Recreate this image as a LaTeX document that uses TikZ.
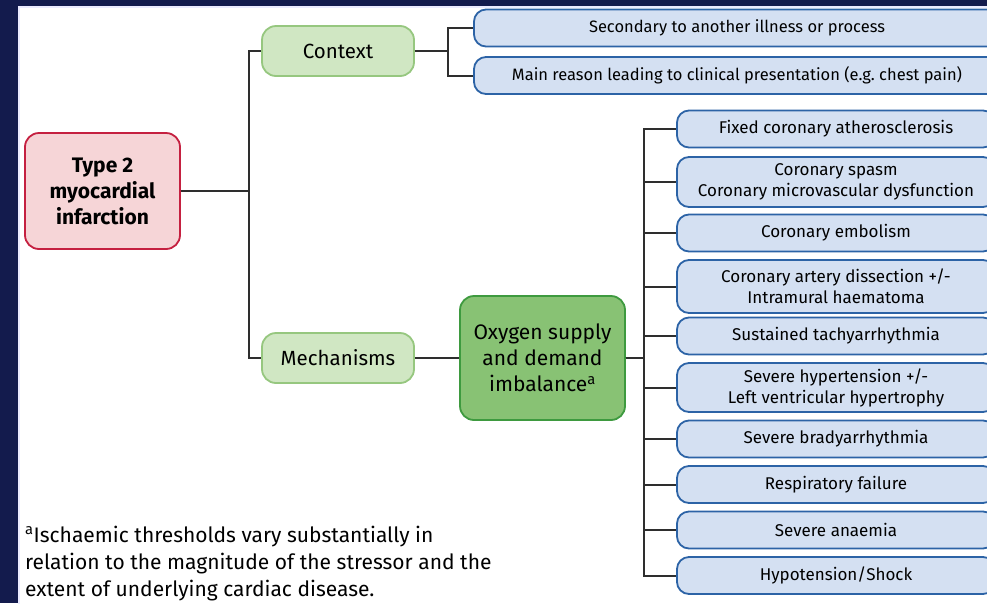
\documentclass[tikz,border=0pt]{standalone}
\usepackage{fontspec}
\setmainfont{Fira Sans}
\definecolor{frame}{HTML}{131B4D}
\definecolor{redline}{HTML}{C52040}
\definecolor{redfill}{HTML}{F6D5D7}
\definecolor{paleline}{HTML}{96C77F}
\definecolor{palefill}{HTML}{D0E7C3}
\definecolor{darkline}{HTML}{3E9A3F}
\definecolor{darkfill}{HTML}{88C274}
\definecolor{blueline}{HTML}{2C63A6}
\definecolor{bluefill}{HTML}{D4E0F2}
\definecolor{linkgray}{HTML}{2E2E2E}
\tikzset{
  box/.style={rounded corners=14pt, line width=1.8pt, inner sep=0pt, align=center},
  mainbox/.style={box, draw=redline, fill=redfill, minimum width=155pt, minimum height=116pt,
    font=\fontsize{21}{26}\selectfont\bfseries},
  groupbox/.style={box, draw=paleline, fill=palefill, minimum width=152pt, minimum height=50pt,
    font=\fontsize{20.5}{26}\selectfont},
  oxybox/.style={box, draw=darkline, fill=darkfill, minimum width=165pt, minimum height=124pt,
    font=\fontsize{21}{26}\selectfont},
  itembox/.style={box, rounded corners=12pt, draw=blueline, fill=bluefill, minimum width=318pt,
    minimum height=37pt, font=\fontsize{17}{21}\selectfont},
  widebox/.style={itembox, minimum width=526pt, font=\fontsize{16.5}{21}\selectfont},
  link/.style={draw=linkgray, line width=2pt}
}
\begin{document}
\begin{tikzpicture}[x=1pt, y=-1pt]
\useasboundingbox (0,0) rectangle (987,603);
\fill[frame] (0,0) rectangle (987,603);
\filldraw[fill=white, draw=blue!8, line width=1.5pt] (19,7) rectangle (995,610);

\node[mainbox] (t2mi) at (102.5,191) {Type 2\\myocardial\\infarction};
\node[groupbox] (context) at (338,51) {Context};
\node[groupbox] (mech) at (338,358) {Mechanisms};
\node[oxybox] (oxy) at (542.5,358) {Oxygen supply\\and demand\\imbalance\textsuperscript{a}};

\node[widebox] (sec) at (737,28) {Secondary to another illness or process};
\node[widebox] (main) at (737,75.5) {Main reason leading to clinical presentation (e.g.\ chest pain)};

\node[itembox] (fixed) at (836,129) {Fixed coronary atherosclerosis};
\node[itembox, minimum height=50pt] (spasm) at (836,182) {Coronary spasm\\Coronary microvascular dysfunction};
\node[itembox] (embol) at (836,233) {Coronary embolism};
\node[itembox, minimum height=53pt] (dissect) at (836,286.5) {Coronary artery dissection +/-\\Intramural haematoma};
\node[itembox] (tachy) at (836,336) {Sustained tachyarrhythmia};
\node[itembox, minimum height=49pt] (hyper) at (836,387.5) {Severe hypertension +/-\\Left ventricular hypertrophy};
\node[itembox] (brady) at (836,439) {Severe bradyarrhythmia};
\node[itembox] (resp) at (836,484.5) {Respiratory failure};
\node[itembox] (anaem) at (836,530) {Severe anaemia};
\node[itembox] (shock) at (836,575.5) {Hypotension/Shock};

\node[anchor=base west, align=left, inner sep=0pt, font=\fontsize{21}{27}\selectfont] (note) at (25,596)
  {\textsuperscript{a}Ischaemic thresholds vary substantially in\\relation to the magnitude of the stressor and the\\extent of underlying cardiac disease.};

\draw[link] (t2mi.east) -- +(68,0) |- (context.west);
\draw[link] (t2mi.east) -- +(68,0) |- (mech.west);
\draw[link] (context.east) -- +(33,0) |- (sec.west);
\draw[link] (context.east) -- +(33,0) |- (main.west);
\draw[link] (mech.east) -- (oxy.west);
\foreach \item in {fixed,spasm,embol,dissect,tachy,hyper,brady,resp,anaem,shock}
  \draw[link] (oxy.east) -- +(18,0) |- (\item.west);
\end{tikzpicture}
\end{document}
